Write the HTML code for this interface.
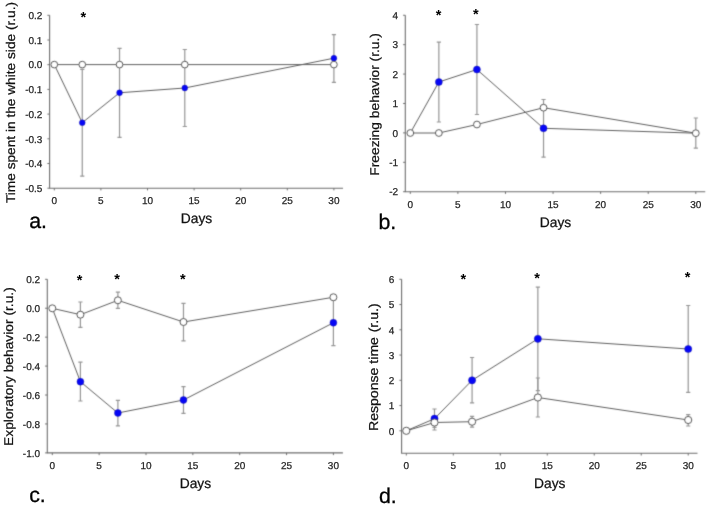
<!DOCTYPE html>
<html><head><meta charset="utf-8"><title>Figure</title>
<style>
html,body{margin:0;padding:0;background:#fff;}
body{width:708px;height:506px;overflow:hidden;}
svg{display:block;}
text{font-family:"Liberation Sans",sans-serif;text-rendering:geometricPrecision;}
.t{font-size:10px;fill:#262626;stroke:#262626;stroke-width:0.25px;}
.ti{font-size:13.8px;fill:#111111;stroke:#111111;stroke-width:0.25px;}
.L{font-size:21.3px;fill:#000;stroke:#000;stroke-width:0.3px;}
.s{font-size:14.5px;fill:#000;font-weight:bold;}
</style></head>
<body>
<svg width="708" height="506" viewBox="0 0 708 506">
<defs>
<filter id="bl" color-interpolation-filters="sRGB" x="0" y="0" width="708" height="506" filterUnits="userSpaceOnUse"><feConvolveMatrix order="3" kernelMatrix="0.01917 0.10012 0.01917 0.10012 0.52283 0.10012 0.01917 0.10012 0.01917" divisor="1" edgeMode="duplicate" preserveAlpha="true"/></filter>
<filter id="tb" color-interpolation-filters="sRGB" x="0" y="0" width="708" height="506" filterUnits="userSpaceOnUse"><feConvolveMatrix order="3" kernelMatrix="0.00276 0.04704 0.00276 0.04704 0.80077 0.04704 0.00276 0.04704 0.00276" divisor="1" edgeMode="duplicate" preserveAlpha="true"/></filter>
</defs>
<rect width="708" height="506" fill="#fff"/>
<g filter="url(#bl)">
<rect width="708" height="506" fill="#fff"/>
<path d="M49.6 15.3V188.2H343" fill="none" stroke="#6e6e6e" stroke-width="1.1"/>
<path d="M49.6 15.3h-2.2" stroke="#6e6e6e" stroke-width="1"/>
<path d="M49.6 40h-2.2" stroke="#6e6e6e" stroke-width="1"/>
<path d="M49.6 64.7h-2.2" stroke="#6e6e6e" stroke-width="1"/>
<path d="M49.6 89.4h-2.2" stroke="#6e6e6e" stroke-width="1"/>
<path d="M49.6 114.1h-2.2" stroke="#6e6e6e" stroke-width="1"/>
<path d="M49.6 138.8h-2.2" stroke="#6e6e6e" stroke-width="1"/>
<path d="M49.6 163.5h-2.2" stroke="#6e6e6e" stroke-width="1"/>
<path d="M49.6 188.2h-2.2" stroke="#6e6e6e" stroke-width="1"/>
<path d="M54.3 188.2v2.2" stroke="#6e6e6e" stroke-width="1"/>
<path d="M100.9 188.2v2.2" stroke="#6e6e6e" stroke-width="1"/>
<path d="M147.5 188.2v2.2" stroke="#6e6e6e" stroke-width="1"/>
<path d="M194.1 188.2v2.2" stroke="#6e6e6e" stroke-width="1"/>
<path d="M240.7 188.2v2.2" stroke="#6e6e6e" stroke-width="1"/>
<path d="M287.3 188.2v2.2" stroke="#6e6e6e" stroke-width="1"/>
<path d="M333.9 188.2v2.2" stroke="#6e6e6e" stroke-width="1"/>
<path d="M82.26 69.3V176.2M80.16 69.3h4.2M80.16 176.2h4.2" stroke="#969696" stroke-width="1.2" fill="none"/>
<path d="M119.54 48.3V137.3M117.44 48.3h4.2M117.44 137.3h4.2" stroke="#969696" stroke-width="1.2" fill="none"/>
<path d="M184.78 49.5V126.5M182.68 49.5h4.2M182.68 126.5h4.2" stroke="#969696" stroke-width="1.2" fill="none"/>
<path d="M333.9 34.6V82.3M331.8 34.6h4.2M331.8 82.3h4.2" stroke="#969696" stroke-width="1.2" fill="none"/>
<polyline points="54.3,64.6 82.26,122.7 119.54,92.75 184.78,88 333.9,58.2" fill="none" stroke="#606060" stroke-width="1"/>
<polyline points="54.3,64.6 82.26,64.6 119.54,64.6 184.78,64.6 333.9,64.6" fill="none" stroke="#606060" stroke-width="1"/>
<circle cx="82.26" cy="122.7" r="2.9" fill="#0606f6" stroke="#1a1aa8" stroke-width="0.45"/>
<circle cx="119.54" cy="92.75" r="2.9" fill="#0606f6" stroke="#1a1aa8" stroke-width="0.45"/>
<circle cx="184.78" cy="88" r="2.9" fill="#0606f6" stroke="#1a1aa8" stroke-width="0.45"/>
<circle cx="333.9" cy="58.2" r="2.9" fill="#0606f6" stroke="#1a1aa8" stroke-width="0.45"/>
<circle cx="54.3" cy="64.6" r="3.35" fill="#fff" stroke="#5a5a5a" stroke-width="1.0"/>
<circle cx="82.26" cy="64.6" r="3.35" fill="#fff" stroke="#5a5a5a" stroke-width="1.0"/>
<circle cx="119.54" cy="64.6" r="3.35" fill="#fff" stroke="#5a5a5a" stroke-width="1.0"/>
<circle cx="184.78" cy="64.6" r="3.35" fill="#fff" stroke="#5a5a5a" stroke-width="1.0"/>
<circle cx="333.9" cy="64.6" r="3.35" fill="#fff" stroke="#5a5a5a" stroke-width="1.0"/>
<path d="M405.3 15.25V191.7H705.25" fill="none" stroke="#6e6e6e" stroke-width="1.1"/>
<path d="M405.3 15.25h-2.2" stroke="#6e6e6e" stroke-width="1"/>
<path d="M405.3 44.66h-2.2" stroke="#6e6e6e" stroke-width="1"/>
<path d="M405.3 74.07h-2.2" stroke="#6e6e6e" stroke-width="1"/>
<path d="M405.3 103.48h-2.2" stroke="#6e6e6e" stroke-width="1"/>
<path d="M405.3 132.89h-2.2" stroke="#6e6e6e" stroke-width="1"/>
<path d="M405.3 162.3h-2.2" stroke="#6e6e6e" stroke-width="1"/>
<path d="M405.3 191.71h-2.2" stroke="#6e6e6e" stroke-width="1"/>
<path d="M410.3 191.7v2.2" stroke="#6e6e6e" stroke-width="1"/>
<path d="M457.88 191.7v2.2" stroke="#6e6e6e" stroke-width="1"/>
<path d="M505.47 191.7v2.2" stroke="#6e6e6e" stroke-width="1"/>
<path d="M553.06 191.7v2.2" stroke="#6e6e6e" stroke-width="1"/>
<path d="M600.64 191.7v2.2" stroke="#6e6e6e" stroke-width="1"/>
<path d="M648.23 191.7v2.2" stroke="#6e6e6e" stroke-width="1"/>
<path d="M695.81 191.7v2.2" stroke="#6e6e6e" stroke-width="1"/>
<path d="M438.85 42.2V122M436.75 42.2h4.2M436.75 122h4.2" stroke="#969696" stroke-width="1.2" fill="none"/>
<path d="M476.92 24.5V114.5M474.82 24.5h4.2M474.82 114.5h4.2" stroke="#969696" stroke-width="1.2" fill="none"/>
<path d="M543.54 99.5V157.1M541.44 99.5h4.2M541.44 157.1h4.2" stroke="#969696" stroke-width="1.2" fill="none"/>
<path d="M695.81 118V148.2M693.71 118h4.2M693.71 148.2h4.2" stroke="#969696" stroke-width="1.2" fill="none"/>
<polyline points="410.3,133 438.85,82 476.92,69.5 543.54,128.3 695.81,133.2" fill="none" stroke="#606060" stroke-width="1"/>
<polyline points="410.3,133 438.85,133 476.92,124.5 543.54,107.7 695.81,133.2" fill="none" stroke="#606060" stroke-width="1"/>
<circle cx="438.85" cy="82" r="3.5" fill="#0606f6" stroke="#1a1aa8" stroke-width="0.45"/>
<circle cx="476.92" cy="69.5" r="3.5" fill="#0606f6" stroke="#1a1aa8" stroke-width="0.45"/>
<circle cx="543.54" cy="128.3" r="3.5" fill="#0606f6" stroke="#1a1aa8" stroke-width="0.45"/>
<circle cx="410.3" cy="133" r="3.4" fill="#fff" stroke="#5a5a5a" stroke-width="1.0"/>
<circle cx="438.85" cy="133" r="3.4" fill="#fff" stroke="#5a5a5a" stroke-width="1.0"/>
<circle cx="476.92" cy="124.5" r="3.4" fill="#fff" stroke="#5a5a5a" stroke-width="1.0"/>
<circle cx="543.54" cy="107.7" r="3.4" fill="#fff" stroke="#5a5a5a" stroke-width="1.0"/>
<circle cx="695.81" cy="133.2" r="3.4" fill="#fff" stroke="#5a5a5a" stroke-width="1.0"/>
<path d="M47.3 279.3V452.9H342.9" fill="none" stroke="#6e6e6e" stroke-width="1.1"/>
<path d="M47.3 279.3h-2.2" stroke="#6e6e6e" stroke-width="1"/>
<path d="M47.3 308.23h-2.2" stroke="#6e6e6e" stroke-width="1"/>
<path d="M47.3 337.16h-2.2" stroke="#6e6e6e" stroke-width="1"/>
<path d="M47.3 366.09h-2.2" stroke="#6e6e6e" stroke-width="1"/>
<path d="M47.3 395.02h-2.2" stroke="#6e6e6e" stroke-width="1"/>
<path d="M47.3 423.95h-2.2" stroke="#6e6e6e" stroke-width="1"/>
<path d="M47.3 452.88h-2.2" stroke="#6e6e6e" stroke-width="1"/>
<path d="M52.3 452.9v2.2" stroke="#6e6e6e" stroke-width="1"/>
<path d="M99.15 452.9v2.2" stroke="#6e6e6e" stroke-width="1"/>
<path d="M146 452.9v2.2" stroke="#6e6e6e" stroke-width="1"/>
<path d="M192.85 452.9v2.2" stroke="#6e6e6e" stroke-width="1"/>
<path d="M239.7 452.9v2.2" stroke="#6e6e6e" stroke-width="1"/>
<path d="M286.55 452.9v2.2" stroke="#6e6e6e" stroke-width="1"/>
<path d="M333.4 452.9v2.2" stroke="#6e6e6e" stroke-width="1"/>
<path d="M80.41 362.2V401M78.31 362.2h4.2M78.31 401h4.2" stroke="#969696" stroke-width="1.2" fill="none"/>
<path d="M117.89 400.3V425.8M115.79 400.3h4.2M115.79 425.8h4.2" stroke="#969696" stroke-width="1.2" fill="none"/>
<path d="M183.48 386.7V413.3M181.38 386.7h4.2M181.38 413.3h4.2" stroke="#969696" stroke-width="1.2" fill="none"/>
<path d="M333.4 299.9V345.6M331.3 299.9h4.2M331.3 345.6h4.2" stroke="#969696" stroke-width="1.2" fill="none"/>
<path d="M80.41 302V327.3M78.31 302h4.2M78.31 327.3h4.2" stroke="#969696" stroke-width="1.2" fill="none"/>
<path d="M117.89 292.2V308.3M115.79 292.2h4.2M115.79 308.3h4.2" stroke="#969696" stroke-width="1.2" fill="none"/>
<path d="M183.48 303.3V340.8M181.38 303.3h4.2M181.38 340.8h4.2" stroke="#969696" stroke-width="1.2" fill="none"/>
<polyline points="52.3,308.3 80.41,381.7 117.89,413 183.48,400 333.4,322.75" fill="none" stroke="#606060" stroke-width="1"/>
<polyline points="52.3,308.3 80.41,314.7 117.89,300.3 183.48,322 333.4,297.25" fill="none" stroke="#606060" stroke-width="1"/>
<circle cx="80.41" cy="381.7" r="3.45" fill="#0606f6" stroke="#1a1aa8" stroke-width="0.45"/>
<circle cx="117.89" cy="413" r="3.45" fill="#0606f6" stroke="#1a1aa8" stroke-width="0.45"/>
<circle cx="183.48" cy="400" r="3.45" fill="#0606f6" stroke="#1a1aa8" stroke-width="0.45"/>
<circle cx="333.4" cy="322.75" r="3.45" fill="#0606f6" stroke="#1a1aa8" stroke-width="0.45"/>
<circle cx="52.3" cy="308.3" r="3.5" fill="#fff" stroke="#5a5a5a" stroke-width="1.0"/>
<circle cx="80.41" cy="314.7" r="3.5" fill="#fff" stroke="#5a5a5a" stroke-width="1.0"/>
<circle cx="117.89" cy="300.3" r="3.5" fill="#fff" stroke="#5a5a5a" stroke-width="1.0"/>
<circle cx="183.48" cy="322" r="3.5" fill="#fff" stroke="#5a5a5a" stroke-width="1.0"/>
<circle cx="333.4" cy="297.25" r="3.5" fill="#fff" stroke="#5a5a5a" stroke-width="1.0"/>
<path d="M401.6 279.3V453.3H697.5" fill="none" stroke="#6e6e6e" stroke-width="1.1"/>
<path d="M401.6 279.3h-2.2" stroke="#6e6e6e" stroke-width="1"/>
<path d="M401.6 304.55h-2.2" stroke="#6e6e6e" stroke-width="1"/>
<path d="M401.6 329.8h-2.2" stroke="#6e6e6e" stroke-width="1"/>
<path d="M401.6 355.05h-2.2" stroke="#6e6e6e" stroke-width="1"/>
<path d="M401.6 380.3h-2.2" stroke="#6e6e6e" stroke-width="1"/>
<path d="M401.6 405.55h-2.2" stroke="#6e6e6e" stroke-width="1"/>
<path d="M401.6 430.8h-2.2" stroke="#6e6e6e" stroke-width="1"/>
<path d="M406.3 453.3v2.2" stroke="#6e6e6e" stroke-width="1"/>
<path d="M453.29 453.3v2.2" stroke="#6e6e6e" stroke-width="1"/>
<path d="M500.27 453.3v2.2" stroke="#6e6e6e" stroke-width="1"/>
<path d="M547.25 453.3v2.2" stroke="#6e6e6e" stroke-width="1"/>
<path d="M594.24 453.3v2.2" stroke="#6e6e6e" stroke-width="1"/>
<path d="M641.23 453.3v2.2" stroke="#6e6e6e" stroke-width="1"/>
<path d="M688.21 453.3v2.2" stroke="#6e6e6e" stroke-width="1"/>
<path d="M434.49 409V430M432.39 409h4.2M432.39 430h4.2" stroke="#969696" stroke-width="1.2" fill="none"/>
<path d="M472.08 357.5V402.8M469.98 357.5h4.2M469.98 402.8h4.2" stroke="#969696" stroke-width="1.2" fill="none"/>
<path d="M537.86 287.2V390.6M535.76 287.2h4.2M535.76 390.6h4.2" stroke="#969696" stroke-width="1.2" fill="none"/>
<path d="M688.21 305.5V392.4M686.11 305.5h4.2M686.11 392.4h4.2" stroke="#969696" stroke-width="1.2" fill="none"/>
<path d="M434.49 417.5V427.3M432.39 417.5h4.2M432.39 427.3h4.2" stroke="#969696" stroke-width="1.2" fill="none"/>
<path d="M472.08 416.3V427.2M469.98 416.3h4.2M469.98 427.2h4.2" stroke="#969696" stroke-width="1.2" fill="none"/>
<path d="M537.86 378V417M535.76 378h4.2M535.76 417h4.2" stroke="#969696" stroke-width="1.2" fill="none"/>
<path d="M688.21 414.7V426M686.11 414.7h4.2M686.11 426h4.2" stroke="#969696" stroke-width="1.2" fill="none"/>
<polyline points="406.3,430.8 434.49,418.7 472.08,380.3 537.86,338.8 688.21,349" fill="none" stroke="#606060" stroke-width="1"/>
<polyline points="406.3,430.8 434.49,422.5 472.08,421.7 537.86,397.5 688.21,420" fill="none" stroke="#606060" stroke-width="1"/>
<circle cx="434.49" cy="418.7" r="3.6" fill="#0606f6" stroke="#1a1aa8" stroke-width="0.45"/>
<circle cx="472.08" cy="380.3" r="3.6" fill="#0606f6" stroke="#1a1aa8" stroke-width="0.45"/>
<circle cx="537.86" cy="338.8" r="3.6" fill="#0606f6" stroke="#1a1aa8" stroke-width="0.45"/>
<circle cx="688.21" cy="349" r="3.6" fill="#0606f6" stroke="#1a1aa8" stroke-width="0.45"/>
<circle cx="406.3" cy="430.8" r="3.6" fill="#fff" stroke="#5a5a5a" stroke-width="1.0"/>
<circle cx="434.49" cy="422.5" r="3.6" fill="#fff" stroke="#5a5a5a" stroke-width="1.0"/>
<circle cx="472.08" cy="421.7" r="3.6" fill="#fff" stroke="#5a5a5a" stroke-width="1.0"/>
<circle cx="537.86" cy="397.5" r="3.6" fill="#fff" stroke="#5a5a5a" stroke-width="1.0"/>
<circle cx="688.21" cy="420" r="3.6" fill="#fff" stroke="#5a5a5a" stroke-width="1.0"/>
</g>
<g filter="url(#tb)">
<text x="42.4" y="19.05" text-anchor="end" class="t">0.2</text>
<text x="42.4" y="43.75" text-anchor="end" class="t">0.1</text>
<text x="42.4" y="68.45" text-anchor="end" class="t">0.0</text>
<text x="42.4" y="93.15" text-anchor="end" class="t">-0.1</text>
<text x="42.4" y="117.85" text-anchor="end" class="t">-0.2</text>
<text x="42.4" y="142.55" text-anchor="end" class="t">-0.3</text>
<text x="42.4" y="167.25" text-anchor="end" class="t">-0.4</text>
<text x="42.4" y="191.95" text-anchor="end" class="t">-0.5</text>
<text x="54.3" y="204.3" text-anchor="middle" class="t">0</text>
<text x="100.9" y="204.3" text-anchor="middle" class="t">5</text>
<text x="147.5" y="204.3" text-anchor="middle" class="t">10</text>
<text x="194.1" y="204.3" text-anchor="middle" class="t">15</text>
<text x="240.7" y="204.3" text-anchor="middle" class="t">20</text>
<text x="287.3" y="204.3" text-anchor="middle" class="t">25</text>
<text x="333.9" y="204.3" text-anchor="middle" class="t">30</text>
<text x="83.3" y="21.8" text-anchor="middle" class="s">*</text>
<text transform="translate(15.4 102.5) rotate(-90) scale(1 0.92)" text-anchor="middle" class="ti" style="font-size:13.7px">Time spent in the white side (r.u.)</text>
<text transform="translate(196.5 222.5) scale(1 1.0)" text-anchor="middle" class="ti">Days</text>
<text x="29.2" y="228.2" class="L">a.</text>
<text x="398.1" y="19" text-anchor="end" class="t">4</text>
<text x="398.1" y="48.41" text-anchor="end" class="t">3</text>
<text x="398.1" y="77.82" text-anchor="end" class="t">2</text>
<text x="398.1" y="107.23" text-anchor="end" class="t">1</text>
<text x="398.1" y="136.64" text-anchor="end" class="t">0</text>
<text x="398.1" y="166.05" text-anchor="end" class="t">-1</text>
<text x="398.1" y="195.46" text-anchor="end" class="t">-2</text>
<text x="410.3" y="207.8" text-anchor="middle" class="t">0</text>
<text x="457.88" y="207.8" text-anchor="middle" class="t">5</text>
<text x="505.47" y="207.8" text-anchor="middle" class="t">10</text>
<text x="553.06" y="207.8" text-anchor="middle" class="t">15</text>
<text x="600.64" y="207.8" text-anchor="middle" class="t">20</text>
<text x="648.23" y="207.8" text-anchor="middle" class="t">25</text>
<text x="695.81" y="207.8" text-anchor="middle" class="t">30</text>
<text x="438.7" y="19.5" text-anchor="middle" class="s">*</text>
<text x="475.8" y="18.7" text-anchor="middle" class="s">*</text>
<text transform="translate(379 104.4) rotate(-90) scale(1 0.92)" text-anchor="middle" class="ti">Freezing behavior (r.u.)</text>
<text transform="translate(555.5 226.7) scale(1 1.0)" text-anchor="middle" class="ti">Days</text>
<text x="378.5" y="228.5" class="L">b.</text>
<text x="40.1" y="283.05" text-anchor="end" class="t">0.2</text>
<text x="40.1" y="311.98" text-anchor="end" class="t">0.0</text>
<text x="40.1" y="340.91" text-anchor="end" class="t">-0.2</text>
<text x="40.1" y="369.84" text-anchor="end" class="t">-0.4</text>
<text x="40.1" y="398.77" text-anchor="end" class="t">-0.6</text>
<text x="40.1" y="427.7" text-anchor="end" class="t">-0.8</text>
<text x="40.1" y="456.63" text-anchor="end" class="t">-1.0</text>
<text x="52.3" y="469" text-anchor="middle" class="t">0</text>
<text x="99.15" y="469" text-anchor="middle" class="t">5</text>
<text x="146" y="469" text-anchor="middle" class="t">10</text>
<text x="192.85" y="469" text-anchor="middle" class="t">15</text>
<text x="239.7" y="469" text-anchor="middle" class="t">20</text>
<text x="286.55" y="469" text-anchor="middle" class="t">25</text>
<text x="333.4" y="469" text-anchor="middle" class="t">30</text>
<text x="79.5" y="284.5" text-anchor="middle" class="s">*</text>
<text x="117.2" y="284" text-anchor="middle" class="s">*</text>
<text x="182.8" y="284" text-anchor="middle" class="s">*</text>
<text transform="translate(13.3 366.6) rotate(-90) scale(1 0.92)" text-anchor="middle" class="ti">Exploratory behavior (r.u.)</text>
<text transform="translate(195.4 487.5) scale(1 1.0)" text-anchor="middle" class="ti">Days</text>
<text x="29.2" y="502.2" class="L">c.</text>
<text x="394.4" y="283.05" text-anchor="end" class="t">6</text>
<text x="394.4" y="308.3" text-anchor="end" class="t">5</text>
<text x="394.4" y="333.55" text-anchor="end" class="t">4</text>
<text x="394.4" y="358.8" text-anchor="end" class="t">3</text>
<text x="394.4" y="384.05" text-anchor="end" class="t">2</text>
<text x="394.4" y="409.3" text-anchor="end" class="t">1</text>
<text x="394.4" y="434.55" text-anchor="end" class="t">0</text>
<text x="406.3" y="469.4" text-anchor="middle" class="t">0</text>
<text x="453.29" y="469.4" text-anchor="middle" class="t">5</text>
<text x="500.27" y="469.4" text-anchor="middle" class="t">10</text>
<text x="547.25" y="469.4" text-anchor="middle" class="t">15</text>
<text x="594.24" y="469.4" text-anchor="middle" class="t">20</text>
<text x="641.23" y="469.4" text-anchor="middle" class="t">25</text>
<text x="688.21" y="469.4" text-anchor="middle" class="t">30</text>
<text x="463.3" y="283.7" text-anchor="middle" class="s">*</text>
<text x="537.2" y="282.7" text-anchor="middle" class="s">*</text>
<text x="687.7" y="282.3" text-anchor="middle" class="s">*</text>
<text transform="translate(378.3 367.2) rotate(-90) scale(1 0.92)" text-anchor="middle" class="ti" style="font-size:14.1px">Response time <tspan dx="0.8">(r.u.)</tspan></text>
<text transform="translate(549.8 487.9) scale(1 1.0)" text-anchor="middle" class="ti">Days</text>
<text x="378.9" y="502.5" class="L">d.</text>
</g>
</svg>
</body></html>
